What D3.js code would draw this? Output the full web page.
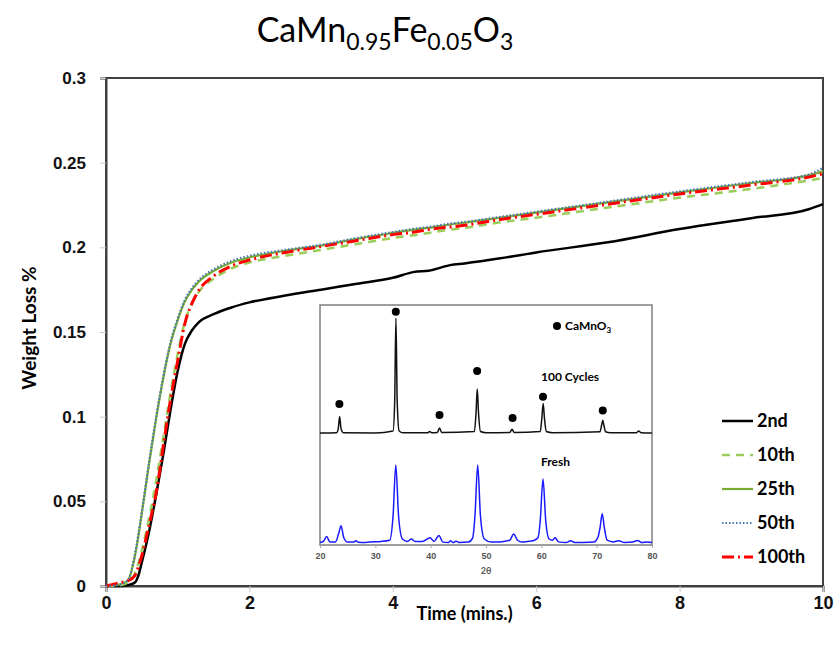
<!DOCTYPE html>
<html>
<head>
<meta charset="utf-8">
<script src="https://cdn.jsdelivr.net/npm/d3@7"></script>
<style>
  body { margin: 0; background: #fff; }
  svg { font-family: Lato, "Open Sans", sans-serif; }
  .tick text { font-weight: bold; fill: #111; }
</style>
</head>
<body>
<svg id="chart"></svg>
<script>
// ---- main chart data ----
const times = [0, 0.2, 0.3, 0.4, 0.45, 0.5, 0.6, 0.7, 0.8, 0.9, 1.0, 1.1, 1.2, 1.3, 1.5, 1.75, 2, 2.5, 3, 3.5, 4, 4.3, 4.5, 4.8, 5, 5.5, 6, 7, 8, 9, 9.8, 10];
const loss2nd   = [0, 0, 0.0005, 0.002, 0.006, 0.014, 0.032, 0.054, 0.078, 0.104, 0.127, 0.143, 0.151, 0.156, 0.1605, 0.1645, 0.1675, 0.1715, 0.175, 0.1785, 0.182, 0.1855, 0.1862, 0.1895, 0.1905, 0.1935, 0.197, 0.203, 0.2108, 0.2172, 0.2225, 0.2255];
const loss10th  = [0, 0.0005, 0.002, 0.007, 0.013, 0.021, 0.040, 0.062, 0.088, 0.114, 0.137, 0.156, 0.167, 0.174, 0.1815, 0.1875, 0.191, 0.195, 0.1985, 0.202, 0.2055, 0.2072, 0.2085, 0.2105, 0.2115, 0.2148, 0.2175, 0.2235, 0.2293, 0.2345, 0.2395, 0.241];
const loss25th  = [0, 0.001, 0.003, 0.017, 0.029, 0.043, 0.072, 0.099, 0.123, 0.143, 0.157, 0.168, 0.175, 0.180, 0.186, 0.191, 0.194, 0.198, 0.201, 0.205, 0.2085, 0.2105, 0.2115, 0.2135, 0.2145, 0.2175, 0.2205, 0.2265, 0.2325, 0.238, 0.2425, 0.245];
const loss50th  = [0, 0.001, 0.003, 0.018, 0.030, 0.044, 0.073, 0.100, 0.124, 0.144, 0.158, 0.169, 0.176, 0.181, 0.187, 0.192, 0.195, 0.1985, 0.2015, 0.2055, 0.209, 0.211, 0.212, 0.214, 0.215, 0.218, 0.221, 0.227, 0.233, 0.2385, 0.243, 0.247];
const loss100th = [0, 0.002, 0.003, 0.006, 0.011, 0.018, 0.036, 0.055, 0.083, 0.110, 0.133, 0.155, 0.167, 0.175, 0.183, 0.189, 0.1925, 0.197, 0.2005, 0.204, 0.2075, 0.209, 0.2105, 0.212, 0.213, 0.2165, 0.2195, 0.2255, 0.2315, 0.2368, 0.2415, 0.2435];
const seriesNames = ['2nd', '10th', '25th', '50th', '100th'];
const xTicks = [0, 2, 4, 6, 8, 10];
const yTicks = [0, 0.05, 0.1, 0.15, 0.2, 0.25, 0.3];

// ---- inset XRD data ----
const cyclesX = [20, 23.0, 23.3, 23.55, 23.8, 24.2, 30, 33.2, 33.5, 33.72, 33.95, 34.3, 35, 39.5, 39.8, 40.2, 41.2, 41.6, 42, 47.9, 48.2, 48.42, 48.65, 49, 50, 54.3, 54.7, 55.1, 59.8, 60.1, 60.33, 60.56, 60.9, 62, 70.6, 70.9, 71.1, 71.3, 71.6, 72.5, 77.2, 77.6, 78, 80];
const cyclesI = [46.7, 46.8, 48.5, 53.5, 48.5, 46.8, 46.7, 47.5, 60, 94.6, 60, 47.5, 46.8, 46.8, 47.3, 46.8, 46.9, 48.7, 46.9, 47.3, 55, 65, 55, 47.3, 46.8, 46.9, 48.2, 46.9, 47.3, 53, 59, 53, 47.3, 46.8, 47.2, 50, 52, 50, 47.2, 46.8, 46.8, 47.5, 46.8, 46.7];
const freshX = [20, 20.6, 21.2, 21.8, 22.8, 23.4, 23.8, 24.3, 25, 26.1, 26.5, 26.9, 28, 29, 31, 32.6, 33.2, 33.7, 34.2, 34.9, 35.8, 36.5, 37.2, 38.5, 39.9, 40.6, 41.5, 42.2, 43.2, 43.6, 44, 44.6, 45.2, 46.8, 47.6, 48.0, 48.5, 49.0, 49.7, 51, 52.5, 54.3, 55, 55.7, 56.5, 57.5, 58.5, 59.4, 59.8, 60.3, 60.8, 61.4, 62, 62.5, 63.1, 64.5, 65.3, 66, 67.5, 69.5, 70.2, 70.6, 71.0, 71.4, 71.9, 73, 74, 75, 76.5, 77.4, 78.2, 79, 80];
const freshI = [1.0, 1.5, 3.5, 1.2, 1.3, 5, 8, 3, 1.2, 1.2, 1.8, 1.1, 1.0, 1.3, 1.5, 2, 12, 33.3, 12, 2.5, 1.5, 2.5, 1.5, 1.5, 3, 1.5, 4, 1.2, 1.0, 1.8, 1.0, 1.6, 1.0, 1.2, 3, 12, 33.3, 12, 2.5, 1.2, 1.3, 2, 4.6, 2, 1.2, 1.5, 1.8, 3, 10, 27.5, 10, 2.5, 2, 3, 1.3, 1.0, 1.8, 1.0, 1.0, 1.2, 3, 7, 13, 7, 2, 1.3, 1.8, 1.0, 1.2, 1.9, 1.0, 1.3, 1.0];
const dotX = [23.5, 33.7, 41.6, 48.4, 54.8, 60.3, 71.1];
const dotI = [58.75, 97.2, 54.2, 72.5, 52.9, 61.8, 56];
const insetTicks = [20, 30, 40, 50, 60, 70, 80];

// ---- canvas ----
let width = 838, height = 658;
let margin = {left: 106, top: 78, right: 15, bottom: 72};
let svg = d3.select('#chart').attr('width', width).attr('height', height);

let xScale = d3.scaleLinear().domain([0, 10]).range([margin.left, width - margin.right]);
let yScale = d3.scaleLinear().domain([0, 0.3]).range([height - margin.bottom, margin.top]);

// plot frame
svg.append('rect')
    .attr('x', xScale(0)).attr('y', yScale(0.3))
    .attr('width', xScale(10) - xScale(0))
    .attr('height', yScale(0) - yScale(0.3))
    .attr('fill', 'none').attr('stroke', '#404040').attr('stroke-width', 2);

// axes
let gX = svg.append('g')
    .attr('transform', 'translate(0,' + yScale(0) + ')')
    .call(d3.axisBottom(xScale).tickValues(xTicks).tickSize(6).tickPadding(4).tickFormat(d3.format('d')));
let gY = svg.append('g')
    .attr('transform', 'translate(' + xScale(0) + ',0)')
    .call(d3.axisLeft(yScale).tickValues(yTicks).tickSize(6).tickPadding(14).tickFormat(d => String(+d.toFixed(2))));
[gX, gY].forEach(g => {
    g.select('.domain').attr('stroke', '#404040').attr('stroke-width', 2);
    g.selectAll('.tick line').attr('stroke', '#c8c8c8');
    g.selectAll('.tick text').style('font-size', '17px');
});
gX.selectAll('.tick text').style('font-size', '18px');

// axis titles
svg.append('text')
    .attr('x', (xScale(0) + xScale(10)) / 2).attr('y', 620)
    .attr('text-anchor', 'middle')
    .style('font-size', '18px').style('font-weight', 'bold')
    .text('Time (mins.)');
svg.append('text')
    .attr('transform', 'translate(36,' + 328 + ') rotate(-90)')
    .attr('text-anchor', 'middle')
    .style('font-size', '19px').style('font-weight', 'bold')
    .text('Weight Loss %');

// chart title with subscripts
let title = svg.append('text')
    .attr('x', 385).attr('y', 42)
    .attr('text-anchor', 'middle')
    .style('font-size', '34px');
title.append('tspan').text('CaMn');
title.append('tspan').attr('dy', 8).style('font-size', '23px').text('0.95');
title.append('tspan').attr('dy', -8).text('Fe');
title.append('tspan').attr('dy', 8).style('font-size', '23px').text('0.05');
title.append('tspan').attr('dy', -8).text('O');
title.append('tspan').attr('dy', 8).style('font-size', '23px').text('3');

// ---- inset ----
let ix = d3.scaleLinear().domain([20, 80]).range([320, 652]);
let iy = d3.scaleLinear().domain([0, 100]).range([545, 305]);
let inset = svg.append('g');
inset.append('rect')
    .attr('x', ix(20)).attr('y', iy(100))
    .attr('width', ix(80) - ix(20)).attr('height', iy(0) - iy(100))
    .attr('fill', '#fff').attr('stroke', '#7f7f7f').attr('stroke-width', 1.5);

let xrdLine = d3.line().curve(d3.curveMonotoneX).x(d => ix(d[0])).y(d => iy(d[1]));
inset.append('path')
    .datum(cyclesX.map((v, i) => [v, cyclesI[i]]))
    .attr('d', xrdLine).attr('fill', 'none').attr('stroke', '#111').attr('stroke-width', 1.5);
inset.append('path')
    .datum(freshX.map((v, i) => [v, freshI[i]]))
    .attr('d', xrdLine).attr('fill', 'none').attr('stroke', '#1a1aff').attr('stroke-width', 1.5);
inset.selectAll('circle.peak')
    .data(dotX.map((v, i) => [v, dotI[i]]))
    .enter().append('circle')
    .attr('class', 'peak')
    .attr('cx', d => ix(d[0])).attr('cy', d => iy(d[1])).attr('r', 4)
    .attr('fill', '#000');

let iAxis = inset.append('g')
    .attr('transform', 'translate(0,' + iy(0) + ')')
    .call(d3.axisBottom(ix).tickValues(insetTicks).tickSize(3).tickPadding(5));
iAxis.select('.domain').remove();
iAxis.selectAll('.tick line').attr('stroke', '#aaa');
iAxis.selectAll('.tick text').style('font-size', '9px').style('fill', '#555');
inset.append('text')
    .attr('x', ix(50)).attr('y', 574)
    .attr('text-anchor', 'middle')
    .style('font-size', '9px').style('font-weight', 'bold').style('fill', '#555')
    .text('2θ');

inset.append('circle').attr('cx', 557).attr('cy', 326).attr('r', 4).attr('fill', '#000');
let lbl = inset.append('text').attr('x', 565).attr('y', 330)
    .style('font-size', '12px').style('font-weight', 'bold');
lbl.append('tspan').text('CaMnO');
lbl.append('tspan').attr('dy', 3).style('font-size', '8px').text('3');
inset.append('text').attr('x', 541).attr('y', 381)
    .style('font-size', '12px').style('font-weight', 'bold').text('100 Cycles');
inset.append('text').attr('x', 541).attr('y', 466)
    .style('font-size', '12px').style('font-weight', 'bold').text('Fresh');

// ---- weight loss curves ----
let styles = {
    '2nd':   {color: '#000000', width: 2.5, dash: null},
    '10th':  {color: '#9acd5a', width: 2.5, dash: '8,6'},
    '25th':  {color: '#77ac30', width: 2.2, dash: null},
    '50th':  {color: '#4a74b4', width: 2.2, dash: '1.5,2'},
    '100th': {color: '#ff0000', width: 3, dash: '12,4,2,4'}
};
let seriesValues = {'2nd': loss2nd, '10th': loss10th, '25th': loss25th, '50th': loss50th, '100th': loss100th};
let line = d3.line().curve(d3.curveMonotoneX).x(d => xScale(d[0])).y(d => yScale(d[1]));
let drawOrder = ['2nd', '25th', '10th', '100th', '50th'];
drawOrder.forEach(name => {
    let s = styles[name];
    svg.append('path')
        .datum(times.map((t, i) => [t, seriesValues[name][i]]))
        .attr('d', line)
        .attr('fill', 'none')
        .attr('stroke', s.color)
        .attr('stroke-width', s.width)
        .attr('stroke-dasharray', s.dash);
});

// ---- legend ----
let legend = svg.append('g');
seriesNames.forEach((name, i) => {
    let s = styles[name];
    let y = 421 + i * 34;
    legend.append('line')
        .attr('x1', 722).attr('x2', 753).attr('y1', y).attr('y2', y)
        .attr('stroke', s.color).attr('stroke-width', s.width)
        .attr('stroke-dasharray', s.dash);
    legend.append('text')
        .attr('x', 757).attr('y', y + 6)
        .style('font-size', '18px').style('font-weight', 'bold')
        .text(name);
});
</script>
</body>
</html>
